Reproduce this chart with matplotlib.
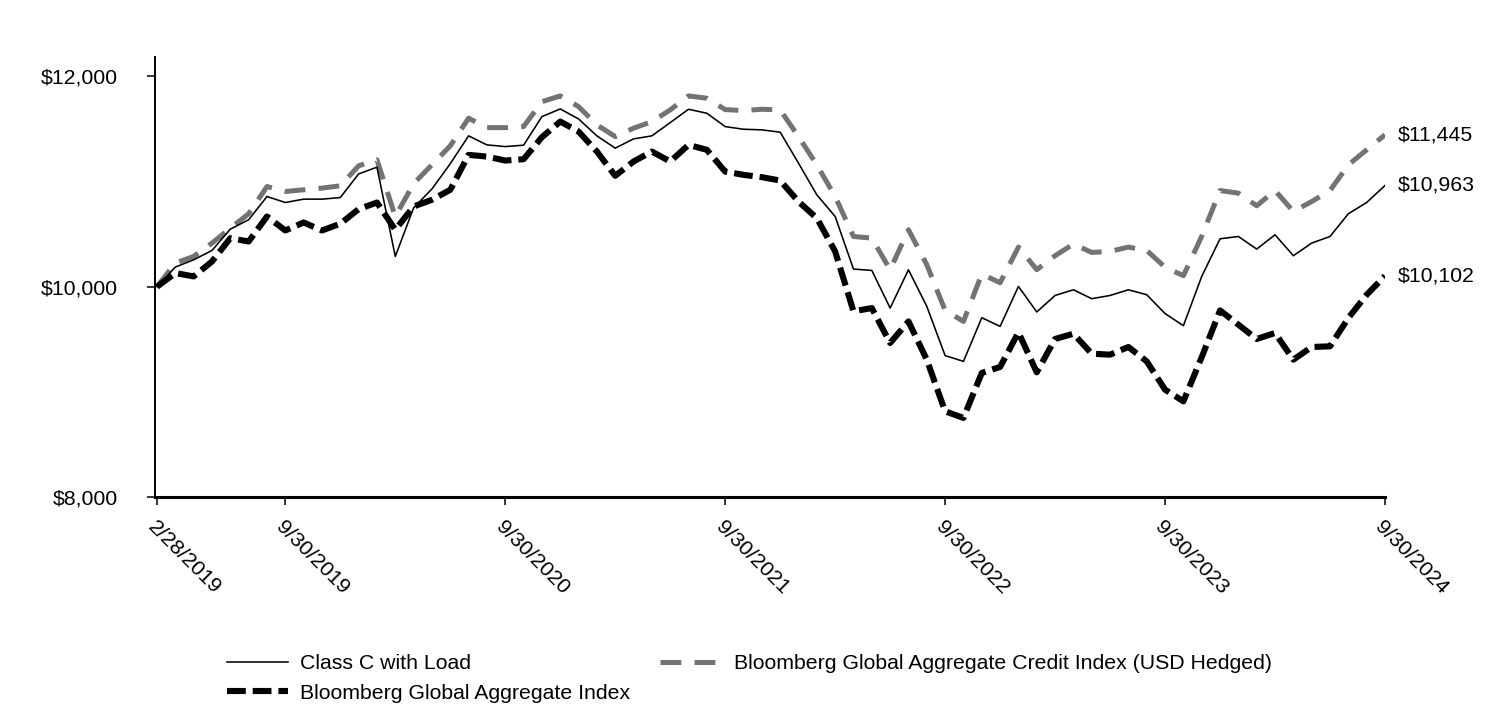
import numpy as np
import matplotlib
matplotlib.use("Agg")
import matplotlib.pyplot as plt

plt.rcParams['font.family'] = ['Liberation Sans', 'DejaVu Sans']
plt.rcParams['lines.scale_dashes'] = False

# ---- data ----
tick_labels = ["2/28/2019", "9/30/2019", "9/30/2020", "9/30/2021",
               "9/30/2022", "9/30/2023", "9/30/2024"]
tick_month_index = [0, 7, 19, 31, 43, 55, 67]

class_c = [10000, 10187, 10256, 10345, 10548, 10637, 10858, 10801, 10833, 10833,
           10848, 11073, 11137, 10288, 10750, 10930, 11170, 11435, 11349, 11333,
           11346, 11618, 11691, 11596, 11435, 11318, 11406, 11435, 11561, 11688,
           11650, 11523, 11498, 11492, 11470, 11175, 10874, 10668, 10168, 10155,
           9797, 10161, 9813, 9345, 9290, 9705, 9623, 10003, 9760, 9917,
           9971, 9886, 9917, 9971, 9924, 9745, 9629, 10098, 10456, 10478,
           10358, 10494, 10295, 10415, 10478, 10694, 10801, 10963]

credit_index = [10000, 10225, 10288, 10415, 10557, 10694, 10953, 10906, 10922, 10938,
                10960, 11150, 11207, 10668, 10980, 11160, 11340, 11603, 11513, 11513,
                11523, 11760, 11815, 11713, 11539, 11428, 11508, 11570, 11682, 11815,
                11793, 11685, 11675, 11688, 11682, 11428, 11159, 10858, 10478, 10462,
                10162, 10542, 10209, 9775, 9670, 10120, 10038, 10377, 10162, 10295,
                10406, 10326, 10336, 10377, 10345, 10185, 10105, 10480, 10915, 10890,
                10770, 10915, 10716, 10810, 10915, 11159, 11302, 11445]

agg_index = [10000, 10130, 10098, 10240, 10462, 10430, 10668, 10535, 10611, 10535,
             10599, 10738, 10801, 10542, 10763, 10827, 10922, 11254, 11238, 11200,
             11213, 11422, 11571, 11476, 11286, 11055, 11191, 11286, 11191, 11349,
             11302, 11095, 11064, 11042, 11010, 10810, 10652, 10336, 9766, 9797,
             9465, 9670, 9306, 8815, 8752, 9180, 9237, 9566, 9186, 9503,
             9553, 9363, 9354, 9427, 9290, 9021, 8910, 9330, 9775, 9639,
             9503, 9560, 9306, 9427, 9433, 9703, 9924, 10102]

series_names = ["Class C with Load", "Bloomberg Global Aggregate Index",
                "Bloomberg Global Aggregate Credit Index (USD Hedged)"]
y_ticks = [8000, 10000, 12000]

# ---- figure ----
fig = plt.figure(figsize=(15.12, 7.08), dpi=100)
ax = fig.add_axes([155/1512, 1-497/708, (1385-155)/1512, (497-57)/708])

x = np.arange(len(class_c))
grey = '#737373'
l_credit, = ax.plot(x, credit_index, color=grey, lw=3.6, linestyle=(0, (15, 9.5)),
                    dash_capstyle='butt')
l_agg, = ax.plot(x, agg_index, color='black', lw=4.4, linestyle=(0, (13.5, 5)),
                 dash_capstyle='butt')
l_c, = ax.plot(x, class_c, color='black', lw=1.15)

fs = 15.3
for vals in (credit_index, class_c, agg_index):
    ax.annotate(f"${vals[-1]:,.0f}", xy=(x[-1], vals[-1]), xytext=(9, 0),
                textcoords='offset points', va='center', ha='left', fontsize=fs,
                annotation_clip=False)

ax.set_xlim(-0.11, 67)
ax.set_ylim(8000, 12185)
ax.set_yticks(y_ticks)
ax.set_yticklabels([f"${v:,.0f}" for v in y_ticks], fontsize=fs)
ax.set_xticks(tick_month_index)
ax.set_xticklabels(tick_labels, rotation=-45, ha='left', va='top',
                   rotation_mode='anchor', fontsize=fs)

for s in ('top', 'right'):
    ax.spines[s].set_visible(False)
ax.spines['left'].set_linewidth(1.4)
ax.spines['bottom'].set_linewidth(2.2)
ax.tick_params(axis='y', length=6, width=1.1, pad=21)
ax.tick_params(axis='x', length=6, width=1.1, pad=9)

leg = fig.legend([l_c, l_agg, l_credit], series_names, ncol=2, frameon=False,
                 loc='upper left', bbox_to_anchor=(227/1512, 1-654/708),
                 fontsize=fs, handlelength=2.85, handletextpad=0.6,
                 columnspacing=1.4, labelspacing=0.5, borderpad=0,
                 borderaxespad=0)

fig.savefig("out.png", dpi=100)
